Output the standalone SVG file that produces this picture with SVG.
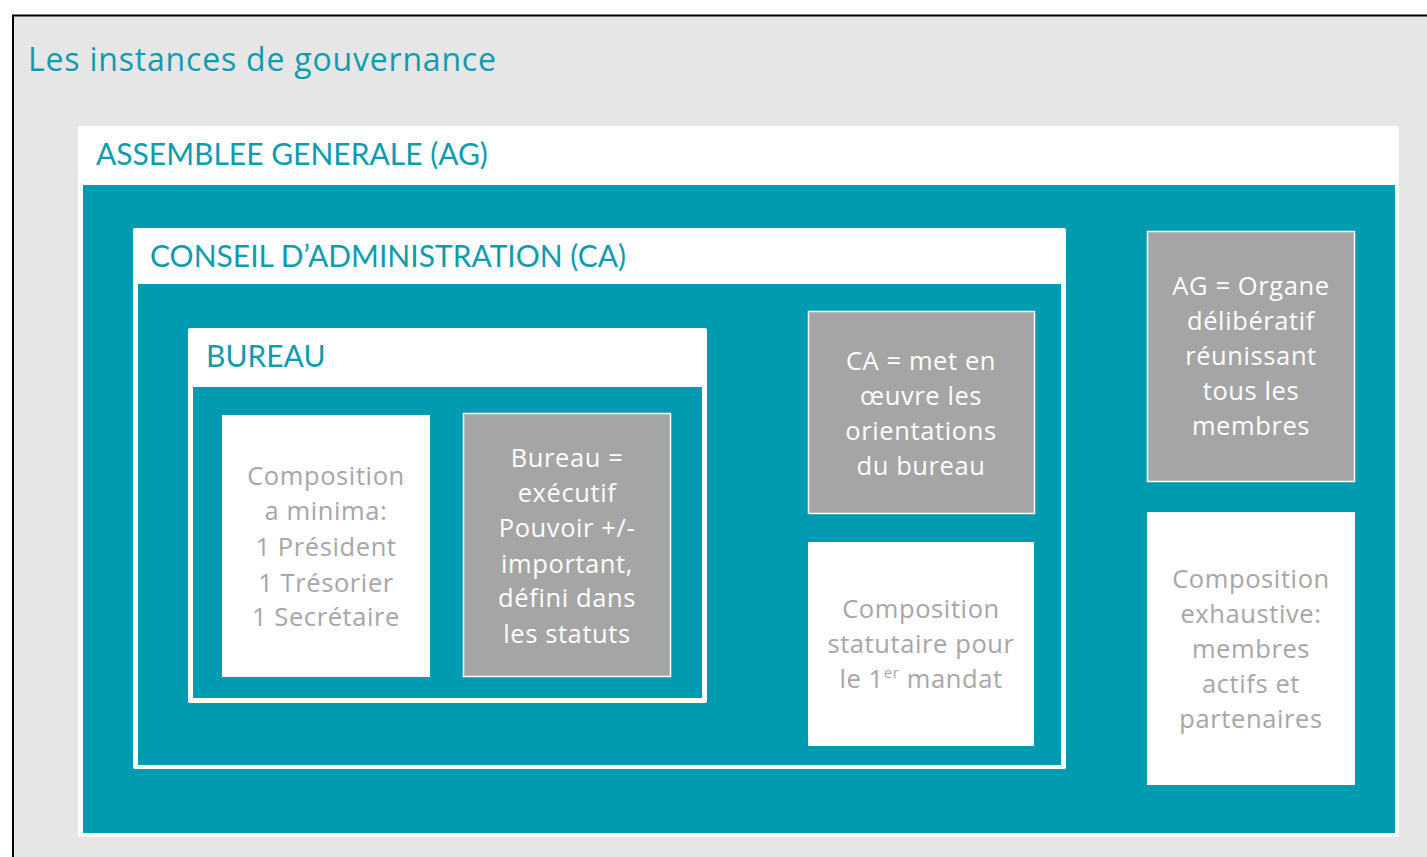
<svg xmlns="http://www.w3.org/2000/svg" width="1427" height="857" viewBox="0 0 1427 857">
<style>
text{font-family:Lato,"Liberation Sans",sans-serif}
.hdr{fill:#0e9bb0;font-size:30px}
.title{fill:#0e9bb0;font-size:32px;font-family:"Open Sans",Lato,sans-serif;letter-spacing:0.8px}
.panel{fill:#ffffff}
.teal{fill:#009bb0}
.grey{fill:#a5a5a5;stroke:#ffffff;stroke-width:1.5}
.white{fill:#ffffff}
.tw{fill:#ffffff;font-size:25.5px;text-anchor:middle;font-family:"Open Sans",Lato,sans-serif;letter-spacing:0.6px}
.tg{fill:#a6a6a6;font-size:25.5px;text-anchor:middle;font-family:"Open Sans",Lato,sans-serif;letter-spacing:0.6px}
</style>
<rect x="0" y="0" width="1427" height="857" fill="#ffffff"/>
<rect x="13" y="15.5" width="1425" height="850" fill="#e6e6e6" stroke="#000000" stroke-width="2"/>
<text class="title" x="28" y="71">Les instances de gouvernance</text>

<g id="ag">
<rect class="panel" x="78" y="126" width="1321" height="711" rx="2"/>
<rect class="teal" x="83" y="185" width="1312" height="648"/>
<text class="hdr" x="96" y="165">ASSEMBLEE GENERALE (AG)</text>
</g>

<g id="ca">
<rect class="panel" x="133" y="228" width="933" height="541" rx="2"/>
<rect class="teal" x="138" y="284" width="923" height="481"/>
<text class="hdr" x="150" y="267">CONSEIL D’ADMINISTRATION (CA)</text>
</g>

<g id="bureau">
<rect class="panel" x="188" y="328" width="519" height="375" rx="2"/>
<rect class="teal" x="193" y="387" width="509" height="311"/>
<text class="hdr" x="206" y="367">BUREAU</text>
</g>

<g id="bureau-composition">
<rect class="white" x="222" y="415" width="208" height="262"/>
<text class="tg"><tspan x="326" y="485">Composition</tspan><tspan x="326" y="520">a minima:</tspan><tspan x="326" y="556">1 Président</tspan><tspan x="326" y="592">1 Trésorier</tspan><tspan x="326" y="626">1 Secrétaire</tspan></text>
</g>

<g id="bureau-role">
<rect class="grey" x="463.5" y="413.5" width="207" height="263"/>
<text class="tw"><tspan x="567" y="467">Bureau =</tspan><tspan x="567" y="502">exécutif</tspan><tspan x="567" y="537">Pouvoir +/-</tspan><tspan x="567" y="573">important,</tspan><tspan x="567" y="607">défini dans</tspan><tspan x="567" y="643">les statuts</tspan></text>
</g>

<g id="ca-role">
<rect class="grey" x="808.5" y="311.5" width="226" height="202"/>
<text class="tw"><tspan x="921" y="370">CA = met en</tspan><tspan x="921" y="405">œuvre les</tspan><tspan x="921" y="440">orientations</tspan><tspan x="921" y="475">du bureau</tspan></text>
</g>

<g id="ca-composition">
<rect class="white" x="808" y="542" width="226" height="204"/>
<text class="tg"><tspan x="921" y="618">Composition</tspan><tspan x="921" y="653">statutaire pour</tspan><tspan x="921" y="688">le 1<tspan baseline-shift="super" font-size="15">er</tspan> mandat</tspan></text>
</g>

<g id="ag-role">
<rect class="grey" x="1147.5" y="231.5" width="207" height="250"/>
<text class="tw"><tspan x="1251" y="295">AG = Organe</tspan><tspan x="1251" y="330">délibératif</tspan><tspan x="1251" y="365">réunissant</tspan><tspan x="1251" y="400">tous les</tspan><tspan x="1251" y="435">membres</tspan></text>
</g>

<g id="ag-composition">
<rect class="white" x="1147" y="512" width="208" height="273"/>
<text class="tg"><tspan x="1251" y="588">Composition</tspan><tspan x="1251" y="623">exhaustive:</tspan><tspan x="1251" y="658">membres</tspan><tspan x="1251" y="693">actifs et</tspan><tspan x="1251" y="728">partenaires</tspan></text>
</g>

<g id="connectors"/>
</svg>
